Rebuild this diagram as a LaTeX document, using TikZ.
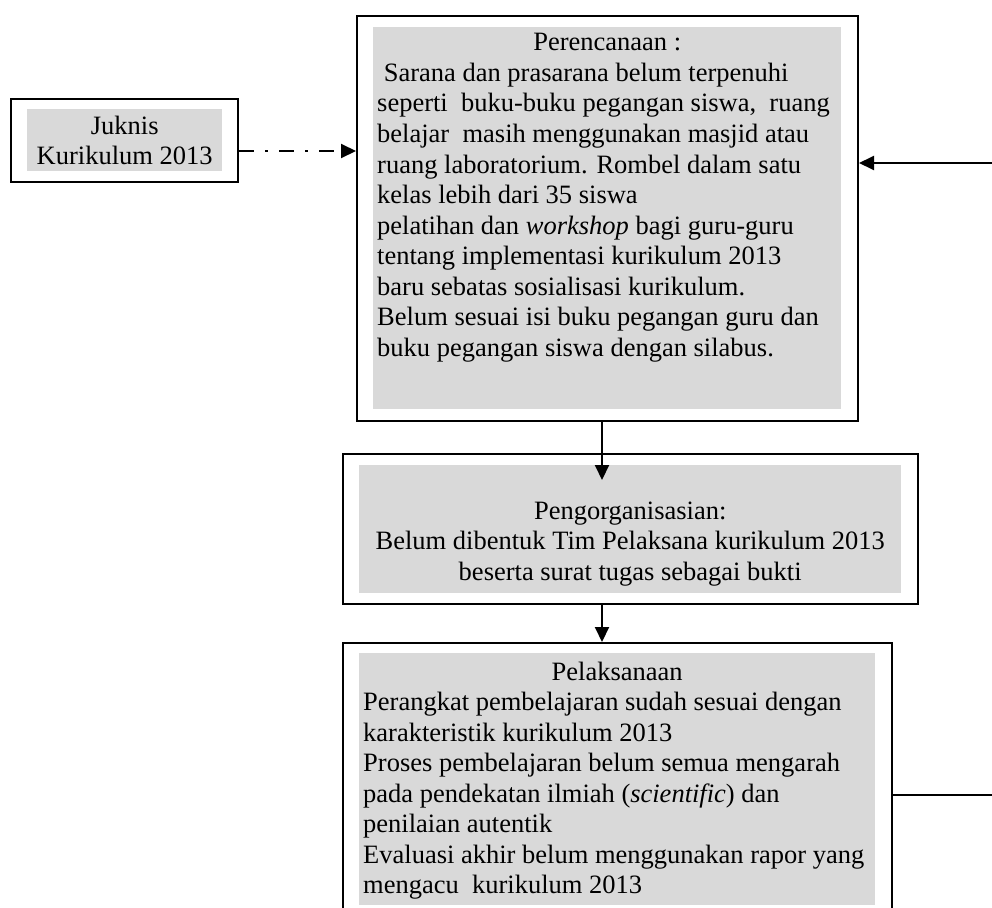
\documentclass[tikz,border=0pt]{standalone}
\usepackage{fontspec}
\setmainfont{Liberation Serif}
\usetikzlibrary{arrows.meta}
\definecolor{boxgray}{RGB}{217,217,217}
\newcommand{\bodyfont}{\fontsize{26.5}{30.5}\selectfont}
\begin{document}
\begin{tikzpicture}[x=1pt,y=-1pt,
  obox/.style={draw, line width=2pt, rectangle, inner sep=0pt, anchor=north west},
  gbox/.style={fill=boxgray, draw=none, rectangle, inner sep=0pt, anchor=north west},
  txt/.style={inner sep=0pt, anchor=base west, font=\bodyfont},
  arr/.style={line width=2pt, -{Triangle[length=15pt,width=14pt]}},
  dasharr/.style={arr, dash pattern=on 15pt off 11pt on 3pt off 11pt},
  conn/.style={line width=2pt}]
\useasboundingbox (0,0) rectangle (992,907);
\clip (0,0) rectangle (992,907);

% Juknis
\node[obox, minimum width=227pt, minimum height=83pt] (jk) at (10,98) {};
\node[gbox, minimum width=195pt, minimum height=62pt] (jkg) at (27,109) {};
\node[txt] (jkt) at (27,134) {\parbox[t]{195pt}{\centering Juknis\\Kurikulum 2013}};

% Perencanaan
\node[obox, minimum width=501pt, minimum height=405pt] (per) at (356,15) {};
\node[gbox, minimum width=468pt, minimum height=382pt] (perg) at (373,27) {};
\node[txt] (pert) at (377,51) {\parbox[t]{460pt}{\centering Perencanaan :\par\raggedright
~Sarana dan prasarana belum terpenuhi\\
seperti~ buku-buku pegangan siswa,~ ruang\\
belajar~ masih menggunakan masjid atau\\
ruang laboratorium. Rombel dalam satu\\
kelas lebih dari 35 siswa\\
pelatihan dan \textit{workshop} bagi guru-guru\\
tentang implementasi kurikulum 2013\\
baru sebatas sosialisasi kurikulum.\\
Belum sesuai isi buku pegangan guru dan\\
buku pegangan siswa dengan silabus.}};

% Pengorganisasian
\node[obox, minimum width=575pt, minimum height=150pt] (org) at (342,453) {};
\node[gbox, minimum width=542pt, minimum height=128pt] (orgg) at (359,465) {};
\node[txt] (orgt) at (359,519) {\parbox[t]{542pt}{\centering Pengorganisasian:\\
Belum dibentuk Tim Pelaksana kurikulum 2013\\
beserta surat tugas sebagai bukti}};

% Pelaksanaan
\node[obox, minimum width=549pt, minimum height=300pt] (pel) at (342,642) {};
\node[gbox, minimum width=516pt, minimum height=252pt] (pelg) at (359,653) {};
\node[txt] (pelt) at (363,680) {\parbox[t]{508pt}{\centering Pelaksanaan\par\raggedright
Perangkat pembelajaran sudah sesuai dengan\\
karakteristik kurikulum 2013\\
Proses pembelajaran belum semua mengarah\\
pada pendekatan ilmiah (\textit{scientific}) dan\\
penilaian autentik\\
Evaluasi akhir belum menggunakan rapor yang\\
mengacu~ kurikulum 2013}};

% connectors
\coordinate (ja) at (0,151);
\draw[dasharr] (jk.east |- ja) -- (per.west |- ja);
\coordinate (ra) at (992,163);
\draw[arr] (ra) -- (per.east |- ra);
\coordinate (da) at (602,480);
\draw[arr] (da |- per.south) -- (da);
\draw[arr] (da |- org.south) -- (da |- pel.north);
\coordinate (rb) at (992,795);
\draw[conn] (pel.east |- rb) -- (rb);
\end{tikzpicture}
\end{document}
